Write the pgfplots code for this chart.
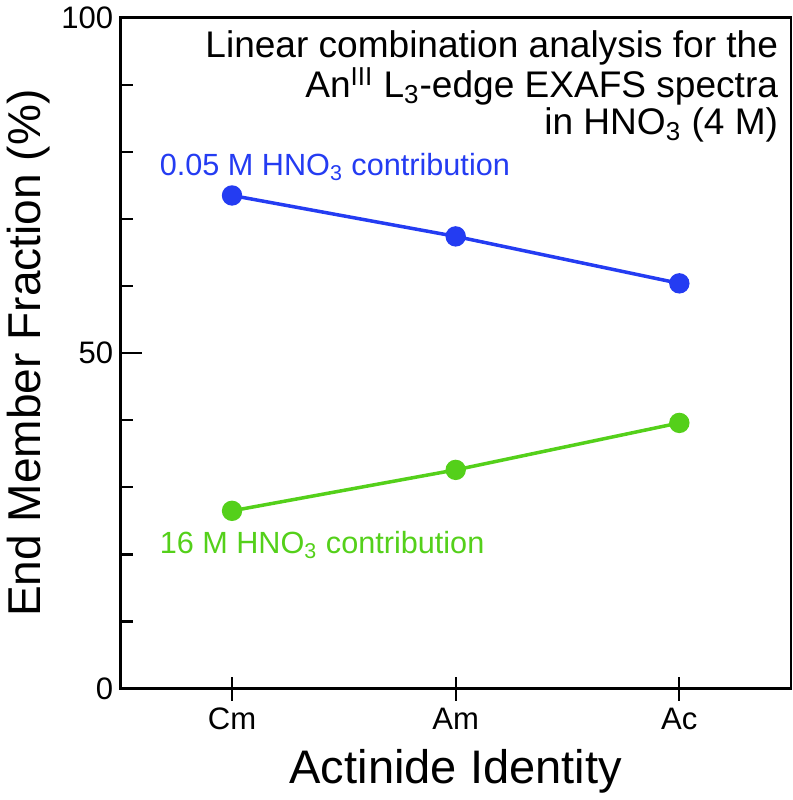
\documentclass[border=0pt]{standalone}
\usepackage{fontspec}
\setmainfont{Liberation Sans}
\usepackage{pgfplots}
\pgfplotsset{compat=1.18}
\definecolor{cblue}{RGB}{36,60,242}
\definecolor{cgreen}{RGB}{84,208,26}

\begin{document}
\begin{tikzpicture}
\begin{axis}[
  width=335pt, height=335pt, scale only axis,
  xmin=-0.5, xmax=2.5, ymin=0, ymax=100,
  axis line style={line width=1.3pt},
  every tick/.style={black, line width=1.1pt},
  xtick=\empty,
  extra x ticks={0,1,2}, extra x tick labels={Cm,Am,Ac},
  extra x tick style={xtick align=center, major tick length=12pt},
  ytick={0,50,100},
  minor ytick={10,20,30,40,60,70,80,90},
  ytick align=inside, major tick length=11pt, minor tick length=6.5pt,
  xtick pos=bottom, ytick pos=left,
  /pgf/number format/assume math mode=true,
  tick label style={font=\fontsize{15.5}{18}\selectfont},
  xlabel style={font=\fontsize{23.5}{27}\selectfont, yshift=-3pt},
  ylabel style={font=\fontsize{23}{27}\selectfont},
  xlabel={Actinide Identity},
  ylabel={End Member Fraction (\%)},
  ylabel shift=-1pt,
  clip=false]
\addplot[cblue, line width=1.75pt, mark=*, mark size=4.2pt] coordinates {(0,73.5) (1,67.4) (2,60.4)};
\addplot[cgreen, line width=1.75pt, mark=*, mark size=4.2pt] coordinates {(0,26.5) (1,32.6) (2,39.6)};
\node[anchor=north east, inner sep=0pt, align=right, font=\fontsize{18.5}{15.3}\selectfont]
  at (rel axis cs:0.981,0.981)
  {\setlength{\lineskiplimit}{-20pt}Linear combination analysis for the\\An\textsuperscript{III} L\textsubscript{3}-edge EXAFS spectra\\in HNO\textsubscript{3} (4 M)};
\node[anchor=base west, inner sep=0pt, text=cblue, font=\fontsize{15.3}{18}\selectfont]
  at (axis cs:-0.325,76.5) {0.05 M HNO\textsubscript{3} contribution};
\node[anchor=base west, inner sep=0pt, text=cgreen, font=\fontsize{15.3}{18}\selectfont]
  at (axis cs:-0.325,20.1) {16 M HNO\textsubscript{3} contribution};
\end{axis}
\end{tikzpicture}
\end{document}
